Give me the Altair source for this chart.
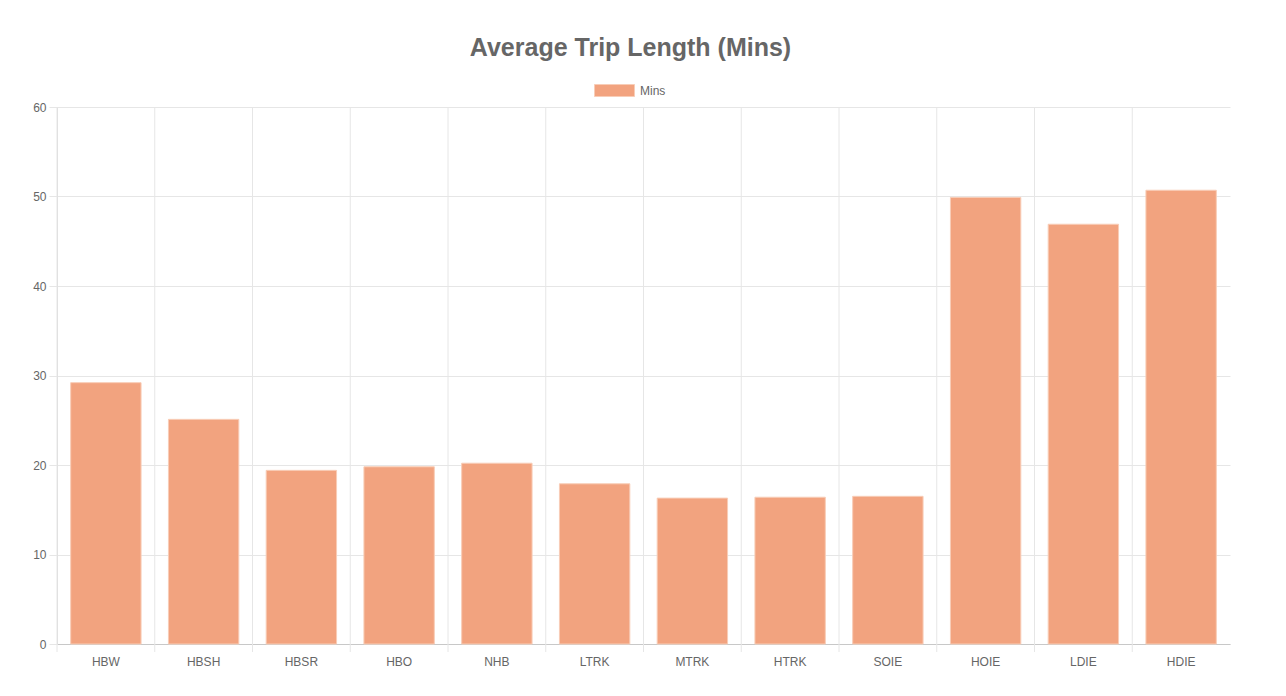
import altair as alt
import pandas as pd

categories = ["HBW", "HBSH", "HBSR", "HBO", "NHB", "LTRK", "MTRK", "HTRK", "SOIE", "HOIE", "LDIE", "HDIE"]
mins = [29.2, 25.1, 19.4, 19.8, 20.2, 17.9, 16.3, 16.4, 16.5, 49.9, 46.9, 50.7]
series_name = "Mins"

df = pd.DataFrame({"cat": categories, "val": mins, "series": [series_name] * len(categories)})

FONT = "Liberation Sans"
FILL = "#F2A37F"
EDGE = "#F8CDB7"
GRID = "#e6e6e6"

x_scale = alt.Scale(domain=categories, paddingInner=0, paddingOuter=0)
y_scale = alt.Scale(domain=[0, 60], nice=False)
x_axis = alt.Axis(labelAngle=0, ticks=False, grid=False, domainColor="#c8c8c8",
                  labelFont=FONT, labelFontSize=12, labelColor="#666666", labelPadding=12)

grid = alt.Chart(df).mark_rule(color=GRID, strokeWidth=1).encode(
    x=alt.X("cat:N", bandPosition=0, scale=x_scale, sort=categories, title=None, axis=x_axis),
    y=alt.value(0),
    y2=alt.value(545),
)

bars = alt.Chart(df).mark_bar(
    width=alt.RelativeBandSize(0.72), stroke=EDGE, strokeWidth=1
).encode(
    x=alt.X("cat:N", scale=x_scale, sort=categories, title=None, axis=x_axis),
    y=alt.Y("val:Q", scale=y_scale, title=None,
            axis=alt.Axis(values=[0, 10, 20, 30, 40, 50, 60], grid=True, gridColor=GRID,
                          tickSize=8, tickColor=GRID, domainColor="#dddddd",
                          labelFont=FONT, labelFontSize=12, labelColor="#666666", labelPadding=3)),
    color=alt.Color("series:N", scale=alt.Scale(domain=[series_name], range=[FILL]), title=None,
                    legend=alt.Legend(orient="none", legendX=537, legendY=-37, padding=0,
                                      symbolType="M-1,-0.3H1V0.3H-1Z", symbolSize=1600,
                                      symbolStrokeColor=EDGE, symbolStrokeWidth=1,
                                      labelFont=FONT, labelFontSize=12, labelColor="#666666",
                                      labelOffset=5)),
)

chart = alt.layer(grid, bars).properties(
    width=1173,
    height=537,
    autosize=alt.AutoSizeParams(type="none"),
    padding={"left": 49, "top": 99, "right": 40, "bottom": 40},
    title=alt.TitleParams("Average Trip Length (Mins)", font=FONT, fontSize=25, fontWeight="bold",
                          color="#666666", anchor="middle", offset=9, dx=-13),
).configure_view(stroke=None)

chart.save("out.html", embed_options={"renderer": "svg", "actions": False})
